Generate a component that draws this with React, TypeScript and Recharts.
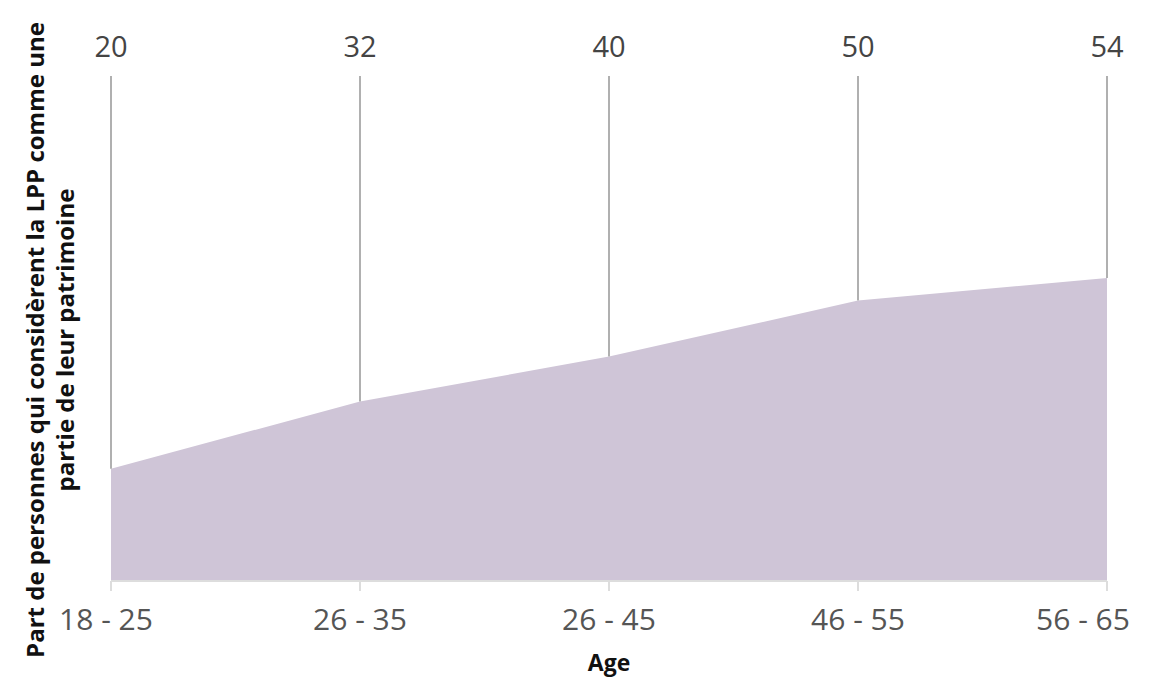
import { AreaChart, Area, XAxis, YAxis, LabelList } from 'recharts'

const ageGroups = ['18 - 25', '26 - 35', '26 - 45', '46 - 55', '56 - 65']
const shareValues = [20, 32, 40, 50, 54]

const data = ageGroups.map((age, i) => ({ age, share: shareValues[i] }))

const FONT = '"Open Sans", "DejaVu Sans", sans-serif'

function ValueLabel(props: any) {
  const { x, y, value } = props
  return (
    <g>
      <line x1={x} y1={76} x2={x} y2={y} stroke="#b0b0b0" strokeWidth={2} />
      <text
        x={x}
        y={57}
        textAnchor="middle"
        fontSize={29}
        fill="#444444"
        fontFamily={FONT}
      >
        {value}
      </text>
    </g>
  )
}

// last label is pulled in so it stays inside the chart
function AgeTick(props: any) {
  const { x, y, payload, index } = props
  const shift = index === ageGroups.length - 1 ? -24 : index === 0 ? -5 : 0
  return (
    <text
      x={x + shift}
      y={y}
      dy="0.71em"
      textAnchor="middle"
      fontSize={30}
      fill="#555555"
      fontFamily={FONT}
    >
      {payload.value}
    </text>
  )
}

function YTitle() {
  return (
    <text
      transform="translate(0 340) rotate(-90)"
      textAnchor="middle"
      fontSize={24}
      fontWeight="bold"
      fill="#111111"
      fontFamily={FONT}
    >
      <tspan x={0} y={44}>Part de personnes qui considèrent la LPP comme une</tspan>
      <tspan x={0} y={74}>partie de leur patrimoine</tspan>
    </text>
  )
}

function XTitle() {
  return (
    <text
      x={609}
      y={671}
      textAnchor="middle"
      fontSize={23}
      fontWeight="bold"
      fill="#111111"
      fontFamily={FONT}
    >
      Age
    </text>
  )
}

export default function App() {
  return (
    <div style={{ position: 'absolute', left: 0, top: 0 }}>
      <AreaChart
        width={1159}
        height={678}
        data={data}
        margin={{ top: 20, right: 52, left: 0, bottom: 0 }}
      >
        <XAxis
          dataKey="age"
          height={97}
          stroke="#dddddd"
          strokeWidth={2}
          tickSize={10}
          tickMargin={18}
          tick={<AgeTick />}
          label={{ content: () => <XTitle /> }}
        />
        <YAxis
          width={111}
          domain={[0, 100]}
          tick={false}
          axisLine={false}
          tickLine={false}
          label={{ content: () => <YTitle /> }}
        />
        <Area
          type="linear"
          dataKey="share"
          fill="#cfc5d7"
          fillOpacity={1}
          stroke="none"
          isAnimationActive={false}
        >
          <LabelList dataKey="share" content={<ValueLabel />} />
        </Area>
      </AreaChart>
    </div>
  )
}
